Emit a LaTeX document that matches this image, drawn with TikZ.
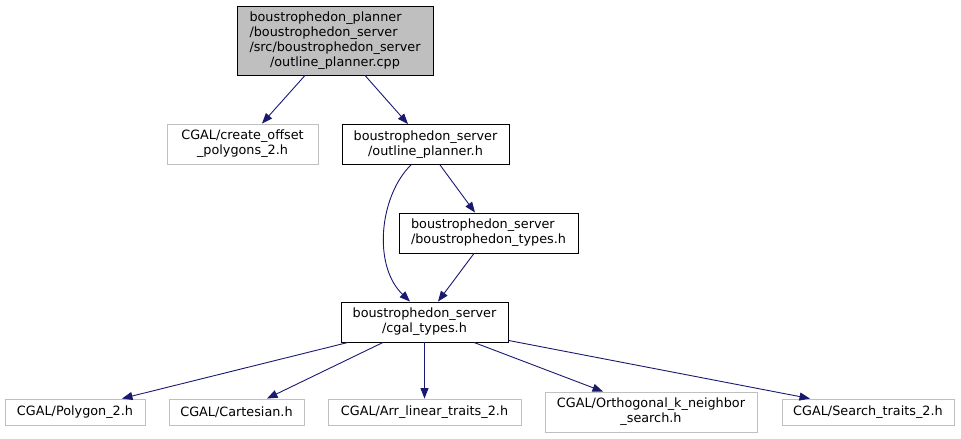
\documentclass[tikz,border=0pt]{standalone}
\usepackage{calc}
\usepackage{fontspec}
\setmainfont{DejaVu Sans}
\usetikzlibrary{arrows.meta}
\definecolor{edgeblue}{HTML}{191970}
\definecolor{boxgray}{HTML}{BFBFBF}
% line padded to the width of a longer one, flush left
\newcommand{\leftto}[2]{\makebox[\widthof{#1}][l]{#2}}

\begin{document}
\begin{tikzpicture}[x=1pt,y=-1pt,
  f/.style={draw=black,line width=0.9pt,inner sep=0pt,align=center,
    font=\fontsize{12.8}{15}\selectfont,minimum height=40pt},
  g/.style={f,draw=boxgray,minimum height=26pt},
  src/.style={f,fill=boxgray,minimum height=69pt},
  e/.style={draw=edgeblue,line width=0.9pt,
    -{Triangle[length=10.5pt,width=8pt]}}]
  \useasboundingbox (0,0) rectangle (961,439);
  % source file and its headers
  \node[src,minimum width=196pt] (cpp) at (335,40.5)
    {\leftto{/src/boustrophedon\_server}{boustrophedon\_planner}\\
     \leftto{/src/boustrophedon\_server}{/boustrophedon\_server}\\
     /src/boustrophedon\_server\\/outline\_planner.cpp};
  \node[g,minimum width=151pt,minimum height=40pt] (offs) at (242.5,144)
    {CGAL/create\_offset\\\_polygons\_2.h};
  \node[f,minimum width=167pt] (outl) at (425.5,144.5)
    {boustrophedon\_server\\/outline\_planner.h};
  \node[f,minimum width=179pt] (btyp) at (488.5,233)
    {\leftto{/boustrophedon\_types.h}{boustrophedon\_server}\\/boustrophedon\_types.h};
  \node[f,minimum width=167pt] (cgal) at (424.5,322)
    {boustrophedon\_server\\/cgal\_types.h};
  % CGAL row
  \node[g,minimum width=140pt] (poly) at (75,412) {CGAL/Polygon\_2.h};
  \node[g,minimum width=135pt] (cart) at (236.5,412) {CGAL/Cartesian.h};
  \node[g,minimum width=193pt] (arr) at (424.5,412) {CGAL/Arr\_linear\_traits\_2.h};
  \node[g,minimum width=212pt,minimum height=40pt] (orth) at (651,412)
    {CGAL/Orthogonal\_k\_neighbor\\\_search.h};
  \node[g,minimum width=172pt] (srch) at (868,412) {CGAL/Search\_traits\_2.h};
  % edges
  \draw[e] ([xshift=-30pt]cpp.south) -- ([xshift=19.5pt]offs.north);
  \draw[e] ([xshift=30pt]cpp.south) -- ([xshift=-17.5pt]outl.north);
  \draw[e] ([xshift=14.5pt]outl.south) -- ([xshift=-13.5pt]btyp.north);
  \draw[e] ([xshift=-14.5pt]outl.south) .. controls (380,195) and (372,265) .. ([xshift=-14.5pt]cgal.north);
  \draw[e] ([xshift=-14.5pt]btyp.south) -- ([xshift=13.5pt]cgal.north);
  \foreach \t/\sa/\ea in {poly/-76.5/47,cart/-41.5/30.5,arr/0/0,orth/49.5/-48}
    \draw[e] ([xshift=\sa pt]cgal.south) -- ([xshift=\ea pt]\t.north);
  \draw[e] ([yshift=2pt]cgal.south east) -- ([xshift=-58pt]srch.north);
\end{tikzpicture}
\end{document}
